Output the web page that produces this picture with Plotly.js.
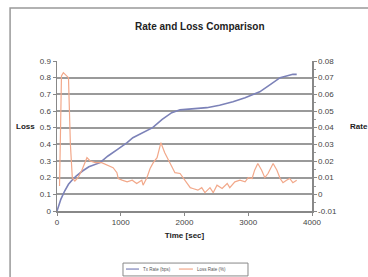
<!DOCTYPE html>
<html><head><meta charset="utf-8">
<script src="https://cdn.plot.ly/plotly-3.0.1.min.js"></script>
<style>html,body{margin:0;padding:0;background:#fff}#c{width:368px;height:277px}</style>
</head><body><div id="c"></div>
<script>
var rateTime = [0, 60, 120, 180, 235, 300, 400, 500, 675, 800, 950, 1100, 1190, 1350, 1500, 1650, 1800, 1930, 2100, 2350, 2550, 2760, 2950, 3180, 3350, 3500, 3600, 3700, 3760];
var rateValue = [0, 0.07, 0.12, 0.16, 0.185, 0.21, 0.24, 0.265, 0.29, 0.33, 0.37, 0.41, 0.44, 0.47, 0.5, 0.55, 0.59, 0.607, 0.612, 0.62, 0.635, 0.655, 0.68, 0.715, 0.76, 0.8, 0.81, 0.82, 0.82];
var lossTime = [40, 55, 70, 100, 130, 180, 210, 240, 280, 330, 390, 470, 520, 600, 700, 800, 880, 940, 960, 1020, 1100, 1180, 1250, 1330, 1350, 1410, 1460, 1510, 1570, 1630, 1690, 1770, 1850, 1930, 2040, 2090, 2130, 2210, 2270, 2320, 2400, 2450, 2510, 2590, 2670, 2710, 2790, 2870, 2950, 3000, 3060, 3100, 3150, 3210, 3260, 3310, 3390, 3450, 3500, 3545, 3600, 3650, 3700, 3760];
var lossValue = [0.005, 0.04, 0.071, 0.073, 0.072, 0.07, 0.03, 0.01, 0.008, 0.01, 0.0145, 0.022, 0.02, 0.019, 0.019, 0.0175, 0.016, 0.013, 0.0095, 0.0085, 0.0075, 0.0085, 0.0065, 0.0085, 0.0055, 0.01, 0.0155, 0.019, 0.022, 0.031, 0.025, 0.019, 0.013, 0.0125, 0.0065, 0.004, 0.0035, 0.0025, 0.004, 0.001, 0.004, 0.001, 0.0055, 0.0035, 0.0065, 0.004, 0.0075, 0.0085, 0.0075, 0.01, 0.0095, 0.0145, 0.0185, 0.0145, 0.01, 0.0125, 0.0185, 0.0145, 0.0095, 0.007, 0.0085, 0.0095, 0.007, 0.0085];
var leftTicks = [0, 0.1, 0.2, 0.3, 0.4, 0.5, 0.6, 0.7, 0.8, 0.9];
var rightTicks = [-0.01, 0, 0.01, 0.02, 0.03, 0.04, 0.05, 0.06, 0.07, 0.08];
var xTicks = [0, 1000, 2000, 3000, 4000];
var seriesNames = ['Tx Rate (bps)', 'Loss Rate (%)'];
var seriesColors = ['#7c82b8', '#f2a88a'];

var F = 'Liberation Sans, Arial, sans-serif';
var traces = [
  {x: rateTime, y: rateValue, type: 'scatter', mode: 'lines', name: seriesNames[0], yaxis: 'y',
   line: {color: seriesColors[0], width: 1.6}},
  {x: lossTime, y: lossValue, type: 'scatter', mode: 'lines', name: seriesNames[1], yaxis: 'y2',
   line: {color: seriesColors[1], width: 1.2}}
];
var layout = {
  width: 368, height: 277,
  margin: {l: 57, r: 56, t: 61, b: 66, pad: 0},
  paper_bgcolor: '#ffffff', plot_bgcolor: '#ffffff',
  font: {family: F, size: 8, color: '#444'},
  title: {text: '<b>Rate and Loss Comparison</b>', x: 0.543, xanchor: 'center', y: 0.905, yanchor: 'middle',
          font: {family: F, size: 10, color: '#222'}},
  showlegend: false,
  xaxis: {range: [0, 4000], tickvals: xTicks, ticktext: xTicks.map(String),
          showgrid: false, zeroline: false, showline: true, linecolor: '#888', linewidth: 1.5,
          ticks: 'outside', ticklen: 3, tickcolor: '#888', automargin: false,
          tickfont: {family: F, size: 8, color: '#444'},
          title: {text: '<b>Time [sec]</b>', standoff: 6, font: {family: F, size: 8, color: '#222'}}},
  yaxis: {range: [0, 0.9], tickvals: leftTicks, ticktext: leftTicks.map(String),
          showgrid: true, gridcolor: '#9a9a9a', gridwidth: 2, zeroline: false,
          showline: true, linecolor: '#888', linewidth: 1.5, automargin: false,
          ticks: 'outside', ticklen: 3, tickcolor: '#888',
          tickfont: {family: F, size: 8, color: '#444'}},
  yaxis2: {range: [-0.01, 0.08], overlaying: 'y', side: 'right', tickvals: rightTicks,
           ticktext: rightTicks.map(function(v){return String(v);}),
           showgrid: false, zeroline: false, showline: true, linecolor: '#888', linewidth: 1.5,
           ticks: 'outside', ticklen: 3, tickcolor: '#888', automargin: false,
           minor: {dtick: 0.005, ticks: 'outside', ticklen: 2, tickcolor: '#999', showgrid: false},
           tickfont: {family: F, size: 8, color: '#444'}},
  annotations: [
    {text: '<b>Loss</b>', xref: 'paper', yref: 'paper', x: -0.08, y: 0.566, xanchor: 'right', yanchor: 'middle',
     showarrow: false, font: {family: F, size: 8, color: '#222'}},
    {text: '<b>Rate</b>', xref: 'paper', yref: 'paper', x: 1.14, y: 0.566, xanchor: 'left', yanchor: 'middle',
     showarrow: false, font: {family: F, size: 8, color: '#222'}},
    {text: seriesNames[0], xref: 'paper', yref: 'paper', x: 0.329, y: -0.387, xanchor: 'left', yanchor: 'middle',
     showarrow: false, font: {family: F, size: 4.5, color: '#555'}},
    {text: seriesNames[1], xref: 'paper', yref: 'paper', x: 0.541, y: -0.387, xanchor: 'left', yanchor: 'middle',
     showarrow: false, font: {family: F, size: 4.5, color: '#555'}}
  ],
  shapes: [
    {type: 'rect', xref: 'paper', yref: 'paper', x0: -0.184, x1: 1.4, y0: -0.6, y1: 1.353,
     line: {color: '#999', width: 1.5}, fillcolor: 'rgba(0,0,0,0)', layer: 'below'},
    {type: 'rect', xref: 'paper', yref: 'paper', x0: 0.2588, x1: 0.749, y0: -0.433, y1: -0.347,
     line: {color: '#888', width: 1}, fillcolor: '#ffffff'},
    {type: 'line', xref: 'paper', yref: 'paper', x0: 0.2706, x1: 0.3216, y0: -0.387, y1: -0.387,
     line: {color: seriesColors[0], width: 1.2}},
    {type: 'line', xref: 'paper', yref: 'paper', x0: 0.478, x1: 0.533, y0: -0.387, y1: -0.387,
     line: {color: seriesColors[1], width: 1.2}}
  ]
};
Plotly.newPlot('c', traces, layout, {staticPlot: true, displayModeBar: false});
</script></body></html>
